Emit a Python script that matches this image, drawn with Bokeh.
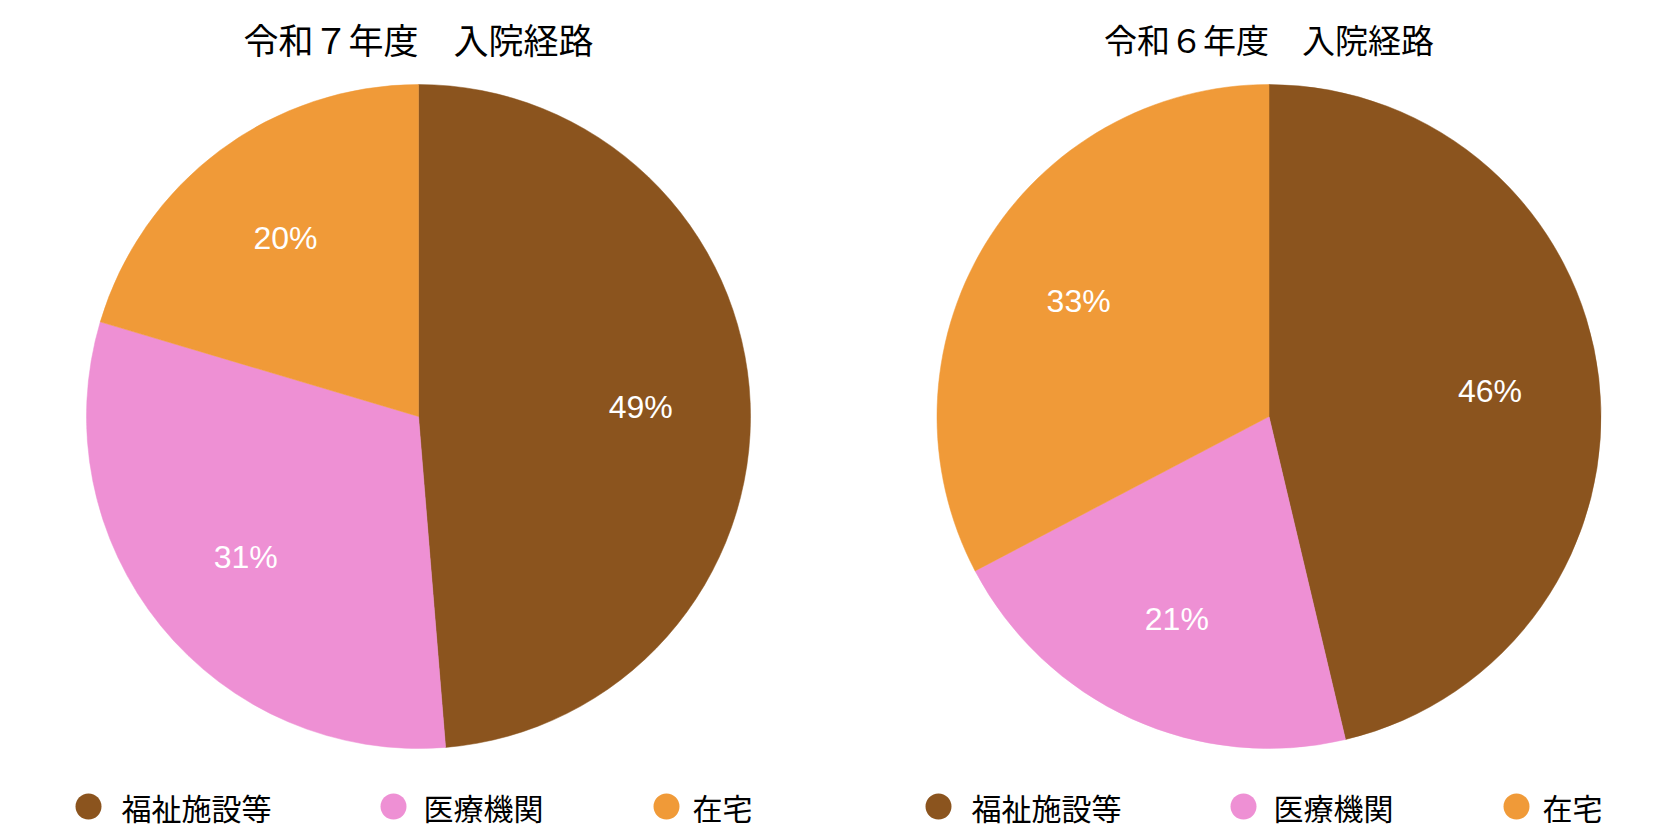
import numpy as np
from bokeh.plotting import figure
from bokeh.models import ColumnDataSource
from bokeh.core.properties import value
from bokeh.embed import file_html
from bokeh.resources import INLINE

# ---- data ----
categories = ["福祉施設等", "医療機関", "在宅"]
colors = ["#8B541E", "#EE90D4", "#F09A38"]
titles = ["令和７年度　入院経路", "令和６年度　入院経路"]
values_r7 = [48.7, 30.9, 20.4]
values_r6 = [46.3, 21.0, 32.7]
series = [values_r7, values_r6]

W, H = 1680, 840
p = figure(width=W, height=H, x_range=(0, W), y_range=(0, H),
           output_backend="svg", toolbar_location=None, min_border=0)
p.axis.visible = False
p.grid.visible = False
p.outline_line_color = None
p.background_fill_color = "white"
p.border_fill_color = "white"

CJK = "Noto Sans CJK JP"
R = 332
centers_x = [418, 1268.5]
title_sizes = ["35px", "33px"]
cy = H - 416
legend_offsets = [(0, 33), (305, 335), (578, 604)]
legend_base = [88, 938]

for k in range(2):
    vals = np.array(series[k], dtype=float)
    frac = vals / vals.sum()
    cum = np.concatenate([[0], np.cumsum(frac)])
    start = np.pi / 2 - cum[:-1] * 2 * np.pi
    end = np.pi / 2 - cum[1:] * 2 * np.pi
    mid = (start + end) / 2
    cx = centers_x[k]
    src = ColumnDataSource(dict(x=[cx] * 3, y=[cy] * 3, start=start, end=end,
                                color=colors, cat=categories))
    p.wedge(x="x", y="y", radius=R, start_angle="start", end_angle="end",
            direction="clock", fill_color="color", line_color="color",
            line_width=0.5, source=src)
    lr = 0.67 * R
    lab = ColumnDataSource(dict(x=cx + lr * np.cos(mid), y=cy + lr * np.sin(mid),
                                t=[f"{round(v)}%" for v in series[k]]))
    p.text(x="x", y="y", text="t", source=lab, text_color="white",
           text_font=value("Liberation Sans"), text_font_size="32px",
           text_align="center", text_baseline="middle")
    # title
    p.text(x=[cx], y=[H - 38], text=[titles[k]], text_font=value(CJK),
           text_font_size=title_sizes[k], text_align="center", text_baseline="middle",
           text_color="black")
    # legend
    ly = H - 806
    lx0 = legend_base[k]
    cxs = [lx0 + o[0] for o in legend_offsets]
    txs = [lx0 + o[1] for o in legend_offsets]
    p.scatter(x=cxs, y=[ly] * 3, size=26, marker="circle", fill_color=colors,
              line_color=None)
    p.text(x=txs, y=[ly] * 3, text=categories, text_font=value(CJK),
           text_font_size="30px", text_align="left", text_baseline="middle",
           text_color="black")

open("out.html", "w").write(file_html(p, INLINE))
